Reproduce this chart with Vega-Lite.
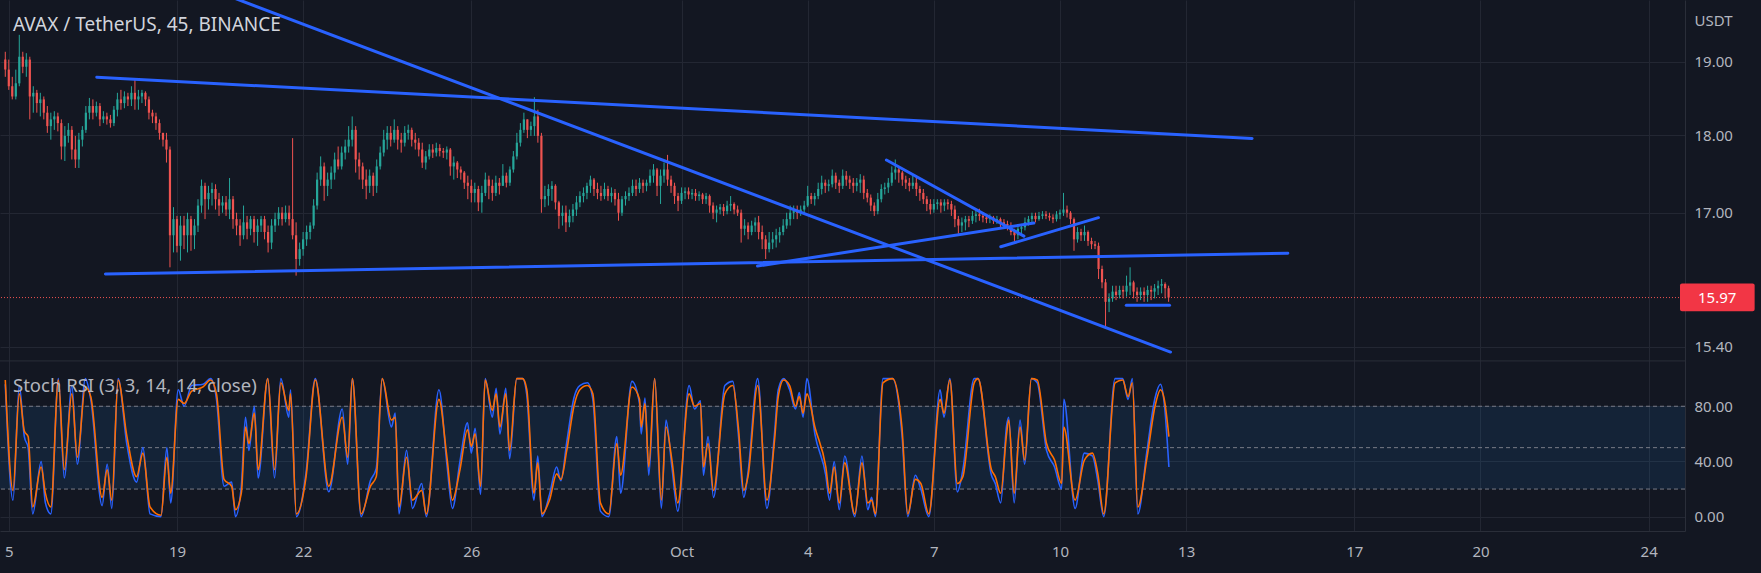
{
"$schema": "https://vega.github.io/schema/vega-lite/v6.json",
"width": 1685,
"height": 531,
"autosize": {"type": "none"},
"padding": {"left": 0, "top": 0, "right": 76, "bottom": 42},
"background": "#131722",
"config": {"view": {"stroke": null}, "font": "Noto Sans", "axis": {"labelFlush": false}, "axisX": {"labelFlush": false}},
"datasets": {
"candles": [
{"t":14.917,"o":19.03,"h":19.14,"l":18.79,"c":18.89},{"t":15,"o":18.89,"h":19.03,"l":18.61,"c":18.66},{"t":15.083,"o":18.66,"h":18.79,"l":18.48,"c":18.52},{"t":15.167,"o":18.52,"h":18.89,"l":18.48,"c":18.7},{"t":15.25,"o":18.7,"h":19.38,"l":18.66,"c":19.07},{"t":15.333,"o":19.07,"h":19.14,"l":18.84,"c":18.93},{"t":15.417,"o":18.93,"h":19.12,"l":18.79,"c":19.03},{"t":15.5,"o":19.03,"h":19.07,"l":18.21,"c":18.52},{"t":15.583,"o":18.52,"h":18.66,"l":18.3,"c":18.57},{"t":15.667,"o":18.57,"h":18.61,"l":18.3,"c":18.43},{"t":15.75,"o":18.43,"h":18.57,"l":18.25,"c":18.48},{"t":15.833,"o":18.48,"h":18.52,"l":18.21,"c":18.3},{"t":15.917,"o":18.3,"h":18.39,"l":18.03,"c":18.12},{"t":16,"o":18.12,"h":18.3,"l":17.94,"c":18.21},{"t":16.083,"o":18.21,"h":18.32,"l":18.07,"c":18.25},{"t":16.167,"o":18.25,"h":18.3,"l":18.05,"c":18.16},{"t":16.25,"o":18.16,"h":18.21,"l":17.68,"c":17.85},{"t":16.333,"o":17.85,"h":18.12,"l":17.66,"c":17.99},{"t":16.417,"o":17.99,"h":18.16,"l":17.9,"c":18.07},{"t":16.5,"o":18.07,"h":18.12,"l":17.68,"c":17.81},{"t":16.583,"o":17.81,"h":17.99,"l":17.57,"c":17.68},{"t":16.667,"o":17.68,"h":18.03,"l":17.57,"c":17.94},{"t":16.75,"o":17.94,"h":18.12,"l":17.85,"c":18.07},{"t":16.833,"o":18.07,"h":18.39,"l":18.03,"c":18.3},{"t":16.917,"o":18.3,"h":18.5,"l":18.21,"c":18.39},{"t":17,"o":18.39,"h":18.48,"l":18.21,"c":18.3},{"t":17.083,"o":18.3,"h":18.45,"l":18.25,"c":18.39},{"t":17.167,"o":18.39,"h":18.43,"l":18.12,"c":18.21},{"t":17.25,"o":18.21,"h":18.32,"l":18.16,"c":18.25},{"t":17.333,"o":18.25,"h":18.3,"l":18.14,"c":18.21},{"t":17.417,"o":18.21,"h":18.27,"l":18.1,"c":18.16},{"t":17.5,"o":18.16,"h":18.39,"l":18.12,"c":18.34},{"t":17.583,"o":18.34,"h":18.57,"l":18.25,"c":18.48},{"t":17.667,"o":18.48,"h":18.61,"l":18.34,"c":18.43},{"t":17.75,"o":18.43,"h":18.59,"l":18.36,"c":18.52},{"t":17.833,"o":18.52,"h":18.57,"l":18.39,"c":18.48},{"t":17.917,"o":18.48,"h":18.66,"l":18.39,"c":18.57},{"t":18,"o":18.57,"h":18.76,"l":18.34,"c":18.48},{"t":18.083,"o":18.48,"h":18.61,"l":18.34,"c":18.52},{"t":18.167,"o":18.52,"h":18.61,"l":18.43,"c":18.57},{"t":18.25,"o":18.57,"h":18.59,"l":18.39,"c":18.48},{"t":18.333,"o":18.48,"h":18.52,"l":18.21,"c":18.3},{"t":18.417,"o":18.3,"h":18.34,"l":18.16,"c":18.25},{"t":18.5,"o":18.25,"h":18.3,"l":18.07,"c":18.16},{"t":18.583,"o":18.16,"h":18.21,"l":17.94,"c":18.03},{"t":18.667,"o":18.03,"h":18.03,"l":17.85,"c":17.94},{"t":18.75,"o":17.94,"h":18.03,"l":17.64,"c":17.81},{"t":18.833,"o":17.81,"h":17.85,"l":16.33,"c":16.72},{"t":18.917,"o":16.72,"h":17.07,"l":16.51,"c":16.92},{"t":19,"o":16.92,"h":16.96,"l":16.51,"c":16.59},{"t":19.083,"o":16.59,"h":16.96,"l":16.41,"c":16.84},{"t":19.167,"o":16.84,"h":16.96,"l":16.55,"c":16.72},{"t":19.25,"o":16.72,"h":17,"l":16.51,"c":16.92},{"t":19.333,"o":16.92,"h":16.96,"l":16.53,"c":16.72},{"t":19.417,"o":16.72,"h":16.92,"l":16.55,"c":16.84},{"t":19.5,"o":16.84,"h":17.17,"l":16.76,"c":17.09},{"t":19.583,"o":17.09,"h":17.42,"l":17,"c":17.34},
{"t":19.667,"o":17.34,"h":17.38,"l":16.92,"c":17.17},{"t":19.75,"o":17.17,"h":17.34,"l":17.04,"c":17.25},{"t":19.833,"o":17.25,"h":17.38,"l":17.09,"c":17.3},{"t":19.917,"o":17.3,"h":17.36,"l":17.04,"c":17.17},{"t":20,"o":17.17,"h":17.25,"l":16.96,"c":17.09},{"t":20.083,"o":17.09,"h":17.21,"l":17,"c":17.13},{"t":20.167,"o":17.13,"h":17.21,"l":16.96,"c":17.04},{"t":20.25,"o":17.04,"h":17.44,"l":16.92,"c":17.17},{"t":20.333,"o":17.17,"h":17.21,"l":16.8,"c":16.92},{"t":20.417,"o":16.92,"h":17,"l":16.72,"c":16.84},{"t":20.5,"o":16.84,"h":16.92,"l":16.59,"c":16.72},{"t":20.583,"o":16.72,"h":17.09,"l":16.67,"c":16.88},{"t":20.667,"o":16.88,"h":16.96,"l":16.67,"c":16.8},{"t":20.75,"o":16.8,"h":16.96,"l":16.72,"c":16.92},{"t":20.833,"o":16.92,"h":16.96,"l":16.63,"c":16.76},{"t":20.917,"o":16.76,"h":16.92,"l":16.59,"c":16.84},{"t":21,"o":16.84,"h":16.96,"l":16.76,"c":16.92},{"t":21.083,"o":16.92,"h":16.96,"l":16.67,"c":16.76},{"t":21.167,"o":16.76,"h":16.84,"l":16.51,"c":16.63},{"t":21.25,"o":16.63,"h":16.92,"l":16.55,"c":16.84},{"t":21.333,"o":16.84,"h":17,"l":16.76,"c":16.92},{"t":21.417,"o":16.92,"h":17.07,"l":16.84,"c":17},{"t":21.5,"o":17,"h":17.07,"l":16.84,"c":16.92},{"t":21.583,"o":16.92,"h":17.09,"l":16.88,"c":17},{"t":21.667,"o":17,"h":17.09,"l":16.84,"c":16.92},{"t":21.75,"o":16.92,"h":17.96,"l":16.67,"c":16.72},{"t":21.833,"o":16.72,"h":16.88,"l":16.23,"c":16.43},{"t":21.917,"o":16.43,"h":16.63,"l":16.35,"c":16.55},{"t":22,"o":16.55,"h":16.76,"l":16.47,"c":16.67},{"t":22.083,"o":16.67,"h":16.84,"l":16.59,"c":16.76},{"t":22.167,"o":16.76,"h":16.88,"l":16.67,"c":16.84},{"t":22.25,"o":16.84,"h":17.17,"l":16.8,"c":17.09},{"t":22.333,"o":17.09,"h":17.51,"l":17.04,"c":17.42},{"t":22.417,"o":17.42,"h":17.72,"l":17.34,"c":17.59},{"t":22.5,"o":17.59,"h":17.64,"l":17.15,"c":17.34},{"t":22.583,"o":17.34,"h":17.51,"l":17.21,"c":17.42},{"t":22.667,"o":17.42,"h":17.59,"l":17.3,"c":17.51},{"t":22.75,"o":17.51,"h":17.77,"l":17.42,"c":17.68},{"t":22.833,"o":17.68,"h":17.85,"l":17.55,"c":17.59},{"t":22.917,"o":17.59,"h":17.85,"l":17.55,"c":17.77},{"t":23,"o":17.77,"h":17.94,"l":17.68,"c":17.85},{"t":23.083,"o":17.85,"h":18.12,"l":17.77,"c":17.94},{"t":23.167,"o":17.94,"h":18.25,"l":17.85,"c":18.07},{"t":23.25,"o":18.07,"h":18.12,"l":17.51,"c":17.68},{"t":23.333,"o":17.68,"h":17.77,"l":17.42,"c":17.59},{"t":23.417,"o":17.59,"h":17.64,"l":17.3,"c":17.42},{"t":23.5,"o":17.42,"h":17.55,"l":17.17,"c":17.34},{"t":23.583,"o":17.34,"h":17.55,"l":17.25,"c":17.47},{"t":23.667,"o":17.47,"h":17.51,"l":17.21,"c":17.34},{"t":23.75,"o":17.34,"h":17.68,"l":17.25,"c":17.59},{"t":23.833,"o":17.59,"h":17.85,"l":17.55,"c":17.77},{"t":23.917,"o":17.77,"h":18.07,"l":17.72,"c":17.94},{"t":24,"o":17.94,"h":18.12,"l":17.81,"c":18.03},{"t":24.083,"o":18.03,"h":18.12,"l":17.85,"c":17.94},{"t":24.167,"o":17.94,"h":18.21,"l":17.9,"c":18.07},{"t":24.25,"o":18.07,"h":18.12,"l":17.81,"c":17.94},{"t":24.333,"o":17.94,"h":18.03,"l":17.77,"c":17.9},
{"t":24.417,"o":17.9,"h":18.12,"l":17.85,"c":18.03},{"t":24.5,"o":18.03,"h":18.14,"l":17.94,"c":18.07},{"t":24.583,"o":18.07,"h":18.1,"l":17.85,"c":17.94},{"t":24.667,"o":17.94,"h":18.03,"l":17.81,"c":17.9},{"t":24.75,"o":17.9,"h":17.96,"l":17.72,"c":17.81},{"t":24.833,"o":17.81,"h":17.9,"l":17.57,"c":17.64},{"t":24.917,"o":17.64,"h":17.79,"l":17.55,"c":17.72},{"t":25,"o":17.72,"h":17.88,"l":17.68,"c":17.81},{"t":25.083,"o":17.81,"h":17.88,"l":17.7,"c":17.77},{"t":25.167,"o":17.77,"h":17.9,"l":17.72,"c":17.83},{"t":25.25,"o":17.83,"h":17.88,"l":17.72,"c":17.79},{"t":25.333,"o":17.79,"h":17.83,"l":17.7,"c":17.77},{"t":25.417,"o":17.77,"h":17.85,"l":17.68,"c":17.81},{"t":25.5,"o":17.81,"h":17.83,"l":17.47,"c":17.59},{"t":25.583,"o":17.59,"h":17.72,"l":17.42,"c":17.64},{"t":25.667,"o":17.64,"h":17.66,"l":17.44,"c":17.55},{"t":25.75,"o":17.55,"h":17.59,"l":17.42,"c":17.51},{"t":25.833,"o":17.51,"h":17.53,"l":17.3,"c":17.38},{"t":25.917,"o":17.38,"h":17.47,"l":17.17,"c":17.34},{"t":26,"o":17.34,"h":17.42,"l":17.13,"c":17.25},{"t":26.083,"o":17.25,"h":17.38,"l":17.13,"c":17.3},{"t":26.167,"o":17.3,"h":17.34,"l":17.02,"c":17.13},{"t":26.25,"o":17.13,"h":17.34,"l":17,"c":17.25},{"t":26.333,"o":17.25,"h":17.51,"l":17.21,"c":17.42},{"t":26.417,"o":17.42,"h":17.47,"l":17.17,"c":17.34},{"t":26.5,"o":17.34,"h":17.42,"l":17.15,"c":17.25},{"t":26.583,"o":17.25,"h":17.47,"l":17.21,"c":17.38},{"t":26.667,"o":17.38,"h":17.44,"l":17.23,"c":17.34},{"t":26.75,"o":17.34,"h":17.62,"l":17.34,"c":17.47},{"t":26.833,"o":17.47,"h":17.51,"l":17.32,"c":17.38},{"t":26.917,"o":17.38,"h":17.59,"l":17.34,"c":17.55},{"t":27,"o":17.55,"h":17.79,"l":17.51,"c":17.72},{"t":27.083,"o":17.72,"h":18.03,"l":17.68,"c":17.9},{"t":27.167,"o":17.9,"h":18.16,"l":17.85,"c":18.07},{"t":27.25,"o":18.07,"h":18.3,"l":18.03,"c":18.21},{"t":27.333,"o":18.21,"h":18.21,"l":17.96,"c":18.07},{"t":27.417,"o":18.07,"h":18.18,"l":17.99,"c":18.12},{"t":27.5,"o":18.12,"h":18.51,"l":17.99,"c":18.25},{"t":27.583,"o":18.25,"h":18.34,"l":17.9,"c":17.99},{"t":27.667,"o":17.99,"h":18.03,"l":17,"c":17.17},{"t":27.75,"o":17.17,"h":17.34,"l":17.07,"c":17.21},{"t":27.833,"o":17.21,"h":17.36,"l":17.09,"c":17.3},{"t":27.917,"o":17.3,"h":17.4,"l":17.15,"c":17.34},{"t":28,"o":17.34,"h":17.36,"l":17.04,"c":17.13},{"t":28.083,"o":17.13,"h":17.15,"l":16.8,"c":16.96},{"t":28.167,"o":16.96,"h":17.09,"l":16.84,"c":17},{"t":28.25,"o":17,"h":17.09,"l":16.76,"c":16.88},{"t":28.333,"o":16.88,"h":17.04,"l":16.82,"c":16.96},{"t":28.417,"o":16.96,"h":17.11,"l":16.88,"c":17.04},{"t":28.5,"o":17.04,"h":17.21,"l":16.96,"c":17.13},{"t":28.583,"o":17.13,"h":17.27,"l":17.07,"c":17.21},{"t":28.667,"o":17.21,"h":17.32,"l":17.13,"c":17.25},{"t":28.75,"o":17.25,"h":17.38,"l":17.17,"c":17.34},{"t":28.833,"o":17.34,"h":17.47,"l":17.25,"c":17.42},{"t":28.917,"o":17.42,"h":17.44,"l":17.21,"c":17.3},{"t":29,"o":17.3,"h":17.38,"l":17.17,"c":17.25},{"t":29.083,"o":17.25,"h":17.34,"l":17.15,"c":17.21},
{"t":29.167,"o":17.21,"h":17.38,"l":17.17,"c":17.3},{"t":29.25,"o":17.3,"h":17.34,"l":17.15,"c":17.21},{"t":29.333,"o":17.21,"h":17.32,"l":17.13,"c":17.25},{"t":29.417,"o":17.25,"h":17.3,"l":17.09,"c":17.17},{"t":29.5,"o":17.17,"h":17.25,"l":16.9,"c":17},{"t":29.583,"o":17,"h":17.21,"l":16.96,"c":17.17},{"t":29.667,"o":17.17,"h":17.27,"l":17.09,"c":17.21},{"t":29.75,"o":17.21,"h":17.32,"l":17.15,"c":17.25},{"t":29.833,"o":17.25,"h":17.42,"l":17.21,"c":17.34},{"t":29.917,"o":17.34,"h":17.42,"l":17.21,"c":17.3},{"t":30,"o":17.3,"h":17.44,"l":17.25,"c":17.38},{"t":30.083,"o":17.38,"h":17.42,"l":17.25,"c":17.34},{"t":30.167,"o":17.34,"h":17.42,"l":17.27,"c":17.38},{"t":30.25,"o":17.38,"h":17.55,"l":17.34,"c":17.47},{"t":30.333,"o":17.47,"h":17.62,"l":17.38,"c":17.55},{"t":30.417,"o":17.55,"h":17.57,"l":17.21,"c":17.34},{"t":30.5,"o":17.34,"h":17.55,"l":17.11,"c":17.47},{"t":30.583,"o":17.47,"h":17.64,"l":17.38,"c":17.55},{"t":30.667,"o":17.55,"h":17.74,"l":17.34,"c":17.42},{"t":30.75,"o":17.42,"h":17.47,"l":17.25,"c":17.34},{"t":30.833,"o":17.34,"h":17.38,"l":17.11,"c":17.21},{"t":30.917,"o":17.21,"h":17.25,"l":17.02,"c":17.15},{"t":31,"o":17.15,"h":17.32,"l":17.11,"c":17.25},{"t":31.083,"o":17.25,"h":17.32,"l":17.17,"c":17.27},{"t":31.167,"o":17.27,"h":17.32,"l":17.17,"c":17.23},{"t":31.25,"o":17.23,"h":17.3,"l":17.17,"c":17.25},{"t":31.333,"o":17.25,"h":17.3,"l":17.15,"c":17.21},{"t":31.417,"o":17.21,"h":17.27,"l":17.15,"c":17.23},{"t":31.5,"o":17.23,"h":17.25,"l":17.11,"c":17.17},{"t":31.583,"o":17.17,"h":17.25,"l":17.11,"c":17.21},{"t":31.667,"o":17.21,"h":17.23,"l":17,"c":17.09},{"t":31.75,"o":17.09,"h":17.13,"l":16.92,"c":17},{"t":31.833,"o":17,"h":17.09,"l":16.88,"c":17.04},{"t":31.917,"o":17.04,"h":17.11,"l":16.98,"c":17.07},{"t":32,"o":17.07,"h":17.11,"l":16.96,"c":17.02},{"t":32.083,"o":17.02,"h":17.15,"l":16.98,"c":17.09},{"t":32.167,"o":17.09,"h":17.21,"l":17.02,"c":17.11},{"t":32.25,"o":17.11,"h":17.13,"l":16.98,"c":17.04},{"t":32.333,"o":17.04,"h":17.09,"l":16.96,"c":17},{"t":32.417,"o":17,"h":17.04,"l":16.63,"c":16.8},{"t":32.5,"o":16.8,"h":16.92,"l":16.72,"c":16.84},{"t":32.583,"o":16.84,"h":16.88,"l":16.67,"c":16.76},{"t":32.667,"o":16.76,"h":16.9,"l":16.72,"c":16.84},{"t":32.75,"o":16.84,"h":16.94,"l":16.76,"c":16.88},{"t":32.833,"o":16.88,"h":16.96,"l":16.67,"c":16.76},{"t":32.917,"o":16.76,"h":16.84,"l":16.55,"c":16.67},{"t":33,"o":16.67,"h":16.72,"l":16.43,"c":16.55},{"t":33.083,"o":16.55,"h":16.76,"l":16.51,"c":16.63},{"t":33.167,"o":16.63,"h":16.76,"l":16.55,"c":16.67},{"t":33.25,"o":16.67,"h":16.8,"l":16.57,"c":16.72},{"t":33.333,"o":16.72,"h":16.82,"l":16.63,"c":16.76},{"t":33.417,"o":16.76,"h":16.92,"l":16.72,"c":16.84},{"t":33.5,"o":16.84,"h":17,"l":16.8,"c":16.92},{"t":33.583,"o":16.92,"h":17.09,"l":16.84,"c":17},{"t":33.667,"o":17,"h":17.09,"l":16.92,"c":17.02},{"t":33.75,"o":17.02,"h":17.09,"l":16.92,"c":17},
{"t":33.833,"o":17,"h":17.09,"l":16.96,"c":17.04},{"t":33.917,"o":17.04,"h":17.15,"l":17,"c":17.09},{"t":34,"o":17.09,"h":17.34,"l":17.07,"c":17.21},{"t":34.083,"o":17.21,"h":17.25,"l":17.11,"c":17.17},{"t":34.167,"o":17.17,"h":17.25,"l":17.09,"c":17.21},{"t":34.25,"o":17.21,"h":17.38,"l":17.17,"c":17.3},{"t":34.333,"o":17.3,"h":17.47,"l":17.23,"c":17.38},{"t":34.417,"o":17.38,"h":17.42,"l":17.25,"c":17.34},{"t":34.5,"o":17.34,"h":17.42,"l":17.27,"c":17.36},{"t":34.583,"o":17.36,"h":17.55,"l":17.32,"c":17.47},{"t":34.667,"o":17.47,"h":17.51,"l":17.3,"c":17.38},{"t":34.75,"o":17.38,"h":17.42,"l":17.25,"c":17.34},{"t":34.833,"o":17.34,"h":17.55,"l":17.3,"c":17.47},{"t":34.917,"o":17.47,"h":17.53,"l":17.34,"c":17.42},{"t":35,"o":17.42,"h":17.47,"l":17.3,"c":17.38},{"t":35.083,"o":17.38,"h":17.44,"l":17.25,"c":17.34},{"t":35.167,"o":17.34,"h":17.44,"l":17.27,"c":17.38},{"t":35.25,"o":17.38,"h":17.49,"l":17.25,"c":17.42},{"t":35.333,"o":17.42,"h":17.47,"l":17.17,"c":17.25},{"t":35.417,"o":17.25,"h":17.3,"l":17.13,"c":17.19},{"t":35.5,"o":17.19,"h":17.23,"l":17.02,"c":17.09},{"t":35.583,"o":17.09,"h":17.13,"l":16.96,"c":17.02},{"t":35.667,"o":17.02,"h":17.25,"l":16.98,"c":17.17},{"t":35.75,"o":17.17,"h":17.36,"l":17.13,"c":17.3},{"t":35.833,"o":17.3,"h":17.38,"l":17.23,"c":17.32},{"t":35.917,"o":17.32,"h":17.44,"l":17.25,"c":17.38},{"t":36,"o":17.38,"h":17.59,"l":17.34,"c":17.51},{"t":36.083,"o":17.51,"h":17.68,"l":17.42,"c":17.55},{"t":36.167,"o":17.55,"h":17.59,"l":17.38,"c":17.51},{"t":36.25,"o":17.51,"h":17.53,"l":17.34,"c":17.42},{"t":36.333,"o":17.42,"h":17.47,"l":17.3,"c":17.38},{"t":36.417,"o":17.38,"h":17.44,"l":17.27,"c":17.34},{"t":36.5,"o":17.34,"h":17.47,"l":17.3,"c":17.38},{"t":36.583,"o":17.38,"h":17.47,"l":17.21,"c":17.3},{"t":36.667,"o":17.3,"h":17.34,"l":17.15,"c":17.25},{"t":36.75,"o":17.25,"h":17.3,"l":17.11,"c":17.17},{"t":36.833,"o":17.17,"h":17.21,"l":17.02,"c":17.11},{"t":36.917,"o":17.11,"h":17.17,"l":16.98,"c":17.04},{"t":37,"o":17.04,"h":17.17,"l":17,"c":17.11},{"t":37.083,"o":17.11,"h":17.17,"l":17.04,"c":17.13},{"t":37.167,"o":17.13,"h":17.17,"l":17,"c":17.09},{"t":37.25,"o":17.09,"h":17.17,"l":17.02,"c":17.13},{"t":37.333,"o":17.13,"h":17.17,"l":17.04,"c":17.11},{"t":37.417,"o":17.11,"h":17.15,"l":16.96,"c":17.04},{"t":37.5,"o":17.04,"h":17.09,"l":16.82,"c":16.92},{"t":37.583,"o":16.92,"h":16.96,"l":16.74,"c":16.84},{"t":37.667,"o":16.84,"h":16.94,"l":16.76,"c":16.88},{"t":37.75,"o":16.88,"h":16.96,"l":16.78,"c":16.92},{"t":37.833,"o":16.92,"h":16.96,"l":16.82,"c":16.9},{"t":37.917,"o":16.9,"h":17.02,"l":16.86,"c":16.96},{"t":38,"o":16.96,"h":17.04,"l":16.88,"c":16.98},{"t":38.083,"o":16.98,"h":17.05,"l":16.9,"c":16.96},{"t":38.167,"o":16.96,"h":17,"l":16.88,"c":16.94},{"t":38.25,"o":16.94,"h":16.98,"l":16.87,"c":16.92},{"t":38.333,"o":16.92,"h":16.98,"l":16.87,"c":16.94},{"t":38.417,"o":16.94,"h":16.96,"l":16.86,"c":16.9},{"t":38.5,"o":16.9,"h":16.96,"l":16.86,"c":16.92},
{"t":38.583,"o":16.92,"h":16.94,"l":16.82,"c":16.88},{"t":38.667,"o":16.88,"h":16.92,"l":16.8,"c":16.86},{"t":38.75,"o":16.86,"h":16.9,"l":16.78,"c":16.84},{"t":38.833,"o":16.84,"h":16.88,"l":16.72,"c":16.76},{"t":38.917,"o":16.76,"h":16.8,"l":16.65,"c":16.72},{"t":39,"o":16.72,"h":16.84,"l":16.67,"c":16.8},{"t":39.083,"o":16.8,"h":16.86,"l":16.72,"c":16.82},{"t":39.167,"o":16.82,"h":16.94,"l":16.78,"c":16.88},{"t":39.25,"o":16.88,"h":16.96,"l":16.84,"c":16.92},{"t":39.333,"o":16.92,"h":17,"l":16.88,"c":16.96},{"t":39.417,"o":16.96,"h":17,"l":16.88,"c":16.92},{"t":39.5,"o":16.92,"h":17.01,"l":16.9,"c":16.96},{"t":39.583,"o":16.96,"h":17.02,"l":16.92,"c":16.98},{"t":39.667,"o":16.98,"h":17.02,"l":16.92,"c":16.96},{"t":39.75,"o":16.96,"h":17,"l":16.9,"c":16.94},{"t":39.833,"o":16.94,"h":16.98,"l":16.87,"c":16.92},{"t":39.917,"o":16.92,"h":17.02,"l":16.89,"c":16.98},{"t":40,"o":16.98,"h":17.04,"l":16.92,"c":17},{"t":40.083,"o":17,"h":17.25,"l":16.96,"c":17.04},{"t":40.167,"o":17.04,"h":17.09,"l":16.94,"c":17},{"t":40.25,"o":17,"h":17.02,"l":16.86,"c":16.92},{"t":40.333,"o":16.92,"h":16.94,"l":16.53,"c":16.67},{"t":40.417,"o":16.67,"h":16.82,"l":16.63,"c":16.76},{"t":40.5,"o":16.76,"h":16.8,"l":16.65,"c":16.72},{"t":40.583,"o":16.72,"h":16.84,"l":16.65,"c":16.76},{"t":40.667,"o":16.76,"h":16.78,"l":16.59,"c":16.65},{"t":40.75,"o":16.65,"h":16.69,"l":16.55,"c":16.61},{"t":40.833,"o":16.61,"h":16.65,"l":16.55,"c":16.59},{"t":40.917,"o":16.59,"h":16.63,"l":16.19,"c":16.31},{"t":41,"o":16.31,"h":16.35,"l":16.08,"c":16.15},{"t":41.083,"o":16.15,"h":16.19,"l":15.61,"c":15.92},{"t":41.167,"o":15.92,"h":16.02,"l":15.8,"c":15.96},{"t":41.25,"o":15.96,"h":16.11,"l":15.92,"c":16.04},{"t":41.333,"o":16.04,"h":16.11,"l":15.94,"c":16},{"t":41.417,"o":16,"h":16.11,"l":15.96,"c":16.06},{"t":41.5,"o":16.06,"h":16.11,"l":15.96,"c":16.04},{"t":41.583,"o":16.04,"h":16.23,"l":15.98,"c":16.11},{"t":41.667,"o":16.11,"h":16.33,"l":16,"c":16.15},{"t":41.75,"o":16.15,"h":16.17,"l":15.96,"c":16.04},{"t":41.833,"o":16.04,"h":16.09,"l":15.92,"c":16},{"t":41.917,"o":16,"h":16.09,"l":15.94,"c":16.04},{"t":42,"o":16.04,"h":16.09,"l":15.92,"c":16},{"t":42.083,"o":16,"h":16.11,"l":15.92,"c":16.06},{"t":42.167,"o":16.06,"h":16.11,"l":15.94,"c":16.04},{"t":42.25,"o":16.04,"h":16.13,"l":15.96,"c":16.08},{"t":42.333,"o":16.08,"h":16.17,"l":16,"c":16.11},{"t":42.417,"o":16.11,"h":16.19,"l":16.02,"c":16.13},{"t":42.5,"o":16.13,"h":16.15,"l":15.96,"c":16.08},{"t":42.583,"o":16.08,"h":16.11,"l":15.92,"c":15.97}
],
"stoch": [
{"t":14.917,"k":96,"d":99},{"t":15.1,"k":12,"d":19},{"t":15.25,"k":95,"d":89},{"t":15.37,"k":58,"d":62},{"t":15.46,"k":50,"d":58},{"t":15.57,"k":2,"d":7},{"t":15.77,"k":40,"d":36},{"t":15.87,"k":10,"d":17},{"t":16,"k":2,"d":7},{"t":16.18,"k":100,"d":99},{"t":16.32,"k":28,"d":34},{"t":16.5,"k":95,"d":89},{"t":16.63,"k":38,"d":43},{"t":16.82,"k":100,"d":94},{"t":16.95,"k":85,"d":87},{"t":17.22,"k":8,"d":14},{"t":17.34,"k":38,"d":34},{"t":17.45,"k":6,"d":12},{"t":17.6,"k":100,"d":99},{"t":17.81,"k":52,"d":58},{"t":18.04,"k":25,"d":29},{"t":18.19,"k":50,"d":46},{"t":18.36,"k":2,"d":7},{"t":18.62,"k":0,"d":1},{"t":18.76,"k":50,"d":43},{"t":18.85,"k":10,"d":17},{"t":19.03,"k":92,"d":85},{"t":19.17,"k":80,"d":82},{"t":19.35,"k":95,"d":91},{"t":19.62,"k":96,"d":94},{"t":19.8,"k":100,"d":99},{"t":19.94,"k":85,"d":89},{"t":20.12,"k":22,"d":27},{"t":20.3,"k":25,"d":22},{"t":20.39,"k":0,"d":5},{"t":20.53,"k":22,"d":17},{"t":20.63,"k":72,"d":65},{"t":20.71,"k":48,"d":53},{"t":20.84,"k":80,"d":75},{"t":20.93,"k":28,"d":34},{"t":21.16,"k":100,"d":100},{"t":21.32,"k":28,"d":34},{"t":21.47,"k":100,"d":97},{"t":21.66,"k":72,"d":77},{"t":21.7,"k":92,"d":89},{"t":21.84,"k":0,"d":2},{"t":22.07,"k":32,"d":29},{"t":22.29,"k":100,"d":99},{"t":22.61,"k":18,"d":22},{"t":22.93,"k":78,"d":72},{"t":23.06,"k":38,"d":43},{"t":23.17,"k":100,"d":100},{"t":23.38,"k":0,"d":2},{"t":23.6,"k":26,"d":22},{"t":23.74,"k":35,"d":29},{"t":23.88,"k":100,"d":100},{"t":24.1,"k":65,"d":70},{"t":24.19,"k":75,"d":72},{"t":24.28,"k":2,"d":7},{"t":24.46,"k":48,"d":43},{"t":24.6,"k":6,"d":12},{"t":24.82,"k":24,"d":19},{"t":24.93,"k":0,"d":2},{"t":25.23,"k":92,"d":85},{"t":25.42,"k":38,"d":43},{"t":25.55,"k":6,"d":12},{"t":25.73,"k":40,"d":34},{"t":25.91,"k":68,"d":63},{"t":26,"k":46,"d":51},{"t":26.09,"k":64,"d":60},{"t":26.22,"k":16,"d":22},{"t":26.33,"k":100,"d":99},{"t":26.5,"k":72,"d":77},{"t":26.59,"k":93,"d":89},{"t":26.68,"k":60,"d":65},{"t":26.82,"k":93,"d":89},{"t":26.91,"k":42,"d":48},{"t":27.08,"k":100,"d":100},{"t":27.22,"k":100,"d":100},{"t":27.32,"k":88,"d":92},{"t":27.49,"k":12,"d":17},{"t":27.58,"k":44,"d":39},{"t":27.68,"k":0,"d":2},{"t":27.86,"k":16,"d":12},{"t":28.03,"k":36,"d":31},{"t":28.13,"k":26,"d":27},{"t":28.27,"k":54,"d":48},{"t":28.44,"k":86,"d":80},{"t":28.58,"k":95,"d":92},{"t":28.76,"k":97,"d":95},{"t":28.89,"k":85,"d":89},{"t":29.07,"k":4,"d":10},{"t":29.27,"k":0,"d":2},{"t":29.46,"k":58,"d":53},{"t":29.55,"k":17,"d":30},{"t":29.82,"k":98,"d":94},{"t":30,"k":82,"d":85},{"t":30.04,"k":60,"d":65},{"t":30.13,"k":86,"d":82},{"t":30.22,"k":30,"d":36},{"t":30.36,"k":100,"d":100},{"t":30.52,"k":6,"d":12},{"t":30.63,"k":70,"d":65},{"t":30.77,"k":36,"d":41},{"t":30.91,"k":4,"d":10},{"t":31.18,"k":95,"d":89},{"t":31.31,"k":78,"d":80},{"t":31.45,"k":84,"d":82},{"t":31.52,"k":30,"d":36},{"t":31.63,"k":58,"d":53},{"t":31.76,"k":14,"d":19},{"t":32.03,"k":95,"d":89},{"t":32.22,"k":98,"d":95},{"t":32.35,"k":60,"d":65},{"t":32.48,"k":14,"d":19},{"t":32.58,"k":32,"d":29},{"t":32.81,"k":100,"d":95},{"t":33.03,"k":6,"d":12},{"t":33.21,"k":60,"d":55},{"t":33.3,"k":92,"d":87},{"t":33.43,"k":100,"d":99},{"t":33.57,"k":92,"d":95},{"t":33.71,"k":78,"d":80},{"t":33.8,"k":90,"d":87},{"t":33.89,"k":72,"d":75},{"t":33.98,"k":100,"d":89},{"t":34.17,"k":60,"d":65},{"t":34.43,"k":30,"d":36},{"t":34.52,"k":12,"d":17},{"t":34.63,"k":40,"d":36},{"t":34.75,"k":5,"d":10},{"t":34.88,"k":44,"d":39},{"t":35.12,"k":0,"d":2},{"t":35.29,"k":44,"d":39},{"t":35.43,"k":5,"d":10},{"t":35.52,"k":14,"d":12},{"t":35.61,"k":0,"d":2},{"t":35.79,"k":100,"d":97},{"t":36.02,"k":100,"d":100},{"t":36.24,"k":60,"d":65},{"t":36.38,"k":0,"d":2},{"t":36.56,"k":30,"d":27},{"t":36.69,"k":20,"d":24},{"t":36.88,"k":0,"d":2},{"t":37.15,"k":92,"d":85},{"t":37.24,"k":72,"d":75},{"t":37.38,"k":100,"d":99},{"t":37.56,"k":18,"d":24},{"t":37.69,"k":34,"d":29},{"t":37.96,"k":100,"d":97},{"t":38.05,"k":100,"d":100},{"t":38.37,"k":30,"d":34},{"t":38.46,"k":24,"d":29},{"t":38.59,"k":10,"d":17},{"t":38.73,"k":66,"d":60},{"t":38.78,"k":72,"d":70},{"t":38.91,"k":10,"d":17},{"t":39.05,"k":70,"d":65},{"t":39.16,"k":38,"d":41},{"t":39.32,"k":100,"d":100},{"t":39.46,"k":97,"d":99},{"t":39.68,"k":48,"d":53},{"t":39.87,"k":36,"d":41},{"t":40.04,"k":20,"d":24},{"t":40.09,"k":85,"d":65},{"t":40.36,"k":6,"d":12},{"t":40.58,"k":46,"d":41},{"t":40.77,"k":44,"d":46},{"t":40.9,"k":26,"d":31},{"t":41.04,"k":0,"d":2},{"t":41.31,"k":100,"d":97},{"t":41.49,"k":100,"d":99},{"t":41.62,"k":85,"d":87},{"t":41.72,"k":100,"d":97},{"t":41.85,"k":2,"d":7},{"t":42.07,"k":48,"d":43},{"t":42.26,"k":86,"d":80},{"t":42.39,"k":96,"d":92},{"t":42.48,"k":82,"d":85},{"t":42.59,"k":36,"d":58}
],
"lines": [
{"t1":17.092,"p1":18.784,"t2":44.568,"p2":17.957},
{"t1":20.229,"p1":19.943,"t2":42.629,"p2":15.342},
{"t1":17.298,"p1":16.249,"t2":45.419,"p2":16.5},
{"t1":41.577,"p1":15.88,"t2":42.605,"p2":15.88},
{"t1":32.806,"p1":16.345,"t2":39.378,"p2":16.872},
{"t1":35.872,"p1":17.673,"t2":39.142,"p2":16.71},
{"t1":38.591,"p1":16.579,"t2":40.915,"p2":16.938}
],
"last": [{"price": 15.97}],
"bands": [{"lo": 20, "hi": 80}],
"hlines": [{"v": 80}, {"v": 50}, {"v": 20}]
},
"layer": [
{
"layer": [
{
"data": {"name": "candles"},
"mark": {"type": "rule", "strokeWidth": 1},
"encoding": {
"x": {"field": "t", "type": "quantitative", "scale": {"domain": [14.91, 54.745], "nice": false, "zero": false},
"axis": {"orient": "bottom", "values": [15,19,22,26,31,34,37,40,43,47,50,54], "labelExpr": "datum.value == 15 ? '5' : (datum.value == 31 ? 'Oct' : (datum.value > 31 ? '' + (datum.value - 30) : '' + datum.value))", "title": null, "ticks": false, "tickSize": 0, "labelPadding": 13, "labelColor": "#b2b5be", "labelFontSize": 15, "labelFont": "Noto Sans", "domain": true, "domainColor": "#2a2e39", "grid": true, "gridColor": "#232733", "labelFlush": false, "labelOverlap": false, "labelBound": false}},
"y": {"field": "l", "type": "quantitative", "scale": {"type": "log", "domain": [13.447, 19.884], "nice": false, "zero": false},
"axis": {"orient": "right", "values": [19, 18, 17, 15.4], "format": ".2f", "title": "USDT", "titleAngle": 0, "titleAlign": "left", "titleBaseline": "middle", "titleX": 9, "titleY": 20, "titleColor": "#b2b5be", "titleFontSize": 15, "titleFontWeight": "normal", "titleFont": "Noto Sans", "labelColor": "#b2b5be", "labelFontSize": 15, "labelFont": "Noto Sans", "labelPadding": 9, "ticks": false, "domain": true, "domainColor": "#2a2e39", "grid": true, "gridColor": "#232733", "labelOverlap": false, "labelBound": false, "labelFlush": false}},
"y2": {"field": "h"},
"color": {"condition": {"test": "datum.c >= datum.o", "value": "#26a69a"}, "value": "#ef5350"}
}
},
{
"data": {"name": "candles"},
"mark": {"type": "bar", "width": 2.2},
"encoding": {
"x": {"field": "t", "type": "quantitative"},
"y": {"field": "o", "type": "quantitative"},
"y2": {"field": "c"},
"color": {"condition": {"test": "datum.c >= datum.o", "value": "#26a69a"}, "value": "#ef5350"}
}
},
{
"data": {"name": "last"},
"mark": {"type": "rule", "strokeDash": [1, 2], "color": "#ef5350", "strokeWidth": 1},
"encoding": {"y": {"field": "price", "type": "quantitative"}}
},
{
"data": {"name": "lines"},
"mark": {"type": "rule", "color": "#2962ff", "strokeWidth": 3, "strokeCap": "round", "clip": true},
"encoding": {
"x": {"field": "t1", "type": "quantitative"},
"x2": {"field": "t2"},
"y": {"field": "p1", "type": "quantitative"},
"y2": {"field": "p2"}
}
},
{
"data": {"name": "last"},
"mark": {"type": "rule", "color": "#2a2e39", "strokeWidth": 1},
"encoding": {"y": {"datum": 15.242}}
},
{
"data": {"name": "last"},
"mark": {"type": "rect", "color": "#f23645", "cornerRadius": 2},
"encoding": {"x": {"datum": 54.745}, "x2": {"datum": 56.52}, "y": {"datum": 16.135}, "y2": {"datum": 15.81}}
},
{
"data": {"name": "last"},
"mark": {"type": "text", "color": "#ffffff", "fontSize": 15, "font": "Noto Sans", "align": "center", "baseline": "middle"},
"encoding": {"x": {"datum": 55.63}, "y": {"field": "price", "type": "quantitative"}, "text": {"field": "price", "type": "quantitative", "format": ".2f"}}
},
{
"data": {"name": "last"},
"mark": {"type": "text", "color": "#d1d4dc", "fontSize": 19, "font": "Noto Sans", "align": "left", "baseline": "alphabetic"},
"encoding": {"x": {"datum": 15.1}, "y": {"datum": 19.435}, "text": {"value": "AVAX / TetherUS, 45, BINANCE"}}
}
]
},
{
"layer": [
{
"data": {"name": "bands"},
"mark": {"type": "rect", "color": "#2196f3", "opacity": 0.1},
"encoding": {
"y": {"field": "lo", "type": "quantitative", "scale": {"domain": [-10.4, 374.4], "nice": false, "zero": false},
"axis": {"orient": "right", "values": [80, 40, 0], "format": ".2f", "title": null, "labelColor": "#b2b5be", "labelFontSize": 15, "labelFont": "Noto Sans", "labelPadding": 9, "ticks": false, "domain": false, "grid": true, "gridColor": "#232733", "labelOverlap": false, "labelBound": false, "labelFlush": false}},
"y2": {"field": "hi"}
}
},
{
"data": {"name": "hlines"},
"mark": {"type": "rule", "color": "#787b86", "strokeDash": [4, 3], "strokeWidth": 1},
"encoding": {"y": {"field": "v", "type": "quantitative"}}
},
{
"data": {"name": "stoch"},
"mark": {"type": "line", "color": "#2962ff", "strokeWidth": 1.6, "interpolate": "monotone"},
"encoding": {"x": {"field": "t", "type": "quantitative"}, "y": {"field": "k", "type": "quantitative"}}
},
{
"data": {"name": "stoch"},
"mark": {"type": "line", "color": "#ff6d00", "strokeWidth": 1.6, "interpolate": "monotone"},
"encoding": {"x": {"field": "t", "type": "quantitative"}, "y": {"field": "d", "type": "quantitative"}}
},
{
"data": {"name": "bands"},
"mark": {"type": "text", "color": "#b2b5be", "fontSize": 18.5, "font": "Noto Sans", "align": "left", "baseline": "alphabetic"},
"encoding": {"x": {"datum": 15.1}, "y": {"datum": 90.4}, "text": {"value": "Stoch RSI (3, 3, 14, 14, close)"}}
}
]
}
],
"resolve": {"scale": {"y": "independent"}, "axis": {"y": "independent"}}
}
